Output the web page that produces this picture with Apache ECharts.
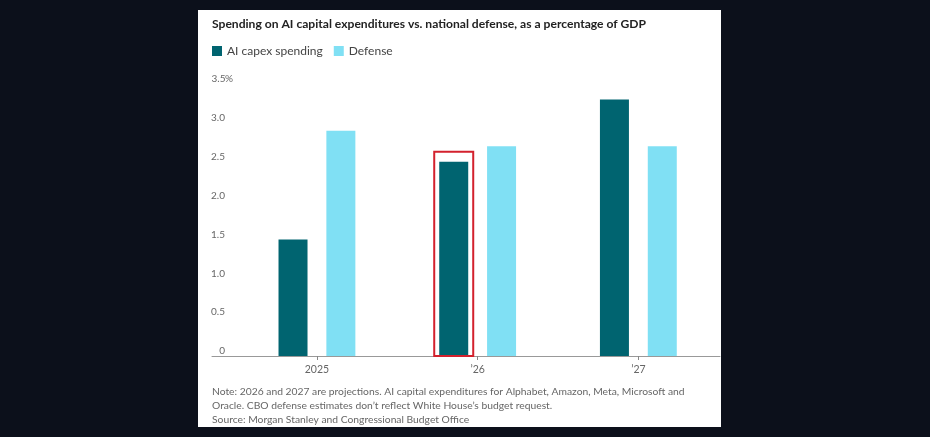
<!DOCTYPE html>
<html>
<head>
<meta charset="utf-8">
<script src="https://cdn.jsdelivr.net/npm/echarts@6/dist/echarts.min.js"></script>
<style>
html, body { margin: 0; padding: 0; background: #0c101b; }
#panel { position: absolute; left: 198px; top: 10px; width: 523px; height: 417px; background: #fff; }
#main { position: absolute; left: 0; top: 0; width: 930px; height: 437px; }
</style>
</head>
<body>
<div id="panel"></div>
<div id="main"></div>
<script>
var years = [2025, 2026, 2027];
var yearLabels = ['2025', '\u201926', '\u201927'];
var aiCapex = [1.5, 2.5, 3.3];
var defense = [2.9, 2.7, 2.7];
var yTickLabels = ['0', '0.5', '1.0', '1.5', '2.0', '2.5', '3.0', '3.5'];
var highlightIndex = 1; // the boxed bar ('26 AI capex)

var font = 'Lato, "Liberation Sans", sans-serif';
var notes = [
    'Note: 2026 and 2027 are projections. AI capital expenditures for Alphabet, Amazon, Meta, Microsoft and',
    'Oracle. CBO defense estimates don\u2019t reflect White House\u2019s budget request.',
    'Source: Morgan Stanley and Congressional Budget Office'
];

function pairs(vals) {
    return vals.map(function (v, i) { return [years[i], v]; });
}

var myChart = echarts.init(document.getElementById('main'));

option = {
    animation: false,
    textStyle: { fontFamily: font },
    title: [
        {
            text: 'Spending on AI capital expenditures vs. national defense, as a percentage of GDP',
            left: 207,
            top: 13,
            textStyle: { fontSize: 12.1, fontWeight: 'bold', color: '#222', fontFamily: font }
        },
        {
            text: notes.join('\n'),
            left: 207,
            top: 380,
            textStyle: { fontSize: 10.3, fontWeight: 'normal', color: '#666', lineHeight: 14, fontFamily: font }
        }
    ],
    legend: {
        left: 207,
        top: 40,
        icon: 'rect',
        itemWidth: 10,
        itemHeight: 10,
        itemGap: 11,
        textStyle: { fontSize: 12, color: '#444', fontFamily: font },
        data: ['AI capex spending', 'Defense']
    },
    grid: {
        left: 212,
        right: 210,
        top: 84,
        bottom: 81
    },
    xAxis: {
        type: 'value',
        min: 2024.347,
        max: 2027.508,
        axisLine: { lineStyle: { color: '#999', width: 1 } },
        axisTick: { show: true, customValues: years, length: 4, lineStyle: { color: '#888' } },
        axisLabel: {
            customValues: years,
            margin: 8,
            fontSize: 10.5,
            color: '#666',
            formatter: function (v) { return yearLabels[years.indexOf(Math.round(v))]; }
        },
        splitLine: { show: false }
    },
    yAxis: {
        type: 'value',
        min: 0,
        max: 3.5,
        interval: 0.5,
        axisLine: { show: false },
        axisTick: { show: false },
        splitLine: { show: false },
        axisLabel: {
            inside: true,
            margin: 0,
            align: 'left',
            verticalAlign: 'bottom',
            fontSize: 10,
            color: '#666',
            formatter: function (v, i) {
                var idx = Math.round(v / 0.5);
                var s = '{v|' + yTickLabels[idx] + '}';
                return idx === yTickLabels.length - 1 ? s + '%' : s;
            },
            rich: {
                v: { width: 13, align: 'right', fontSize: 10, color: '#666', fontFamily: font }
            }
        }
    },
    series: [
        {
            name: 'AI capex spending',
            type: 'bar',
            barWidth: 29,
            barGap: '65%',
            itemStyle: { color: '#006470' },
            data: pairs(aiCapex)
        },
        {
            name: 'Defense',
            type: 'bar',
            barWidth: 29,
            barGap: '65%',
            itemStyle: { color: '#80e0f4' },
            data: pairs(defense)
        }
    ]
};

myChart.setOption(option);

// red highlight box around the '26 AI capex bar, from the bar's own layout
var layout = myChart.getModel().getSeriesByIndex(0).getData().getItemLayout(highlightIndex);
if (layout) {
    var x0 = Math.min(layout.x, layout.x + layout.width) - 5;
    var w = Math.abs(layout.width) + 10;
    var yTop = Math.min(layout.y, layout.y + layout.height) - 10;
    var h = Math.abs(layout.height) + 10;
    myChart.setOption({
        graphic: [{
            type: 'rect',
            shape: { x: x0, y: yTop, width: w, height: h },
            style: { fill: 'none', stroke: '#d3212d', lineWidth: 2 },
            z: 10
        }]
    });
}
</script>
</body>
</html>
